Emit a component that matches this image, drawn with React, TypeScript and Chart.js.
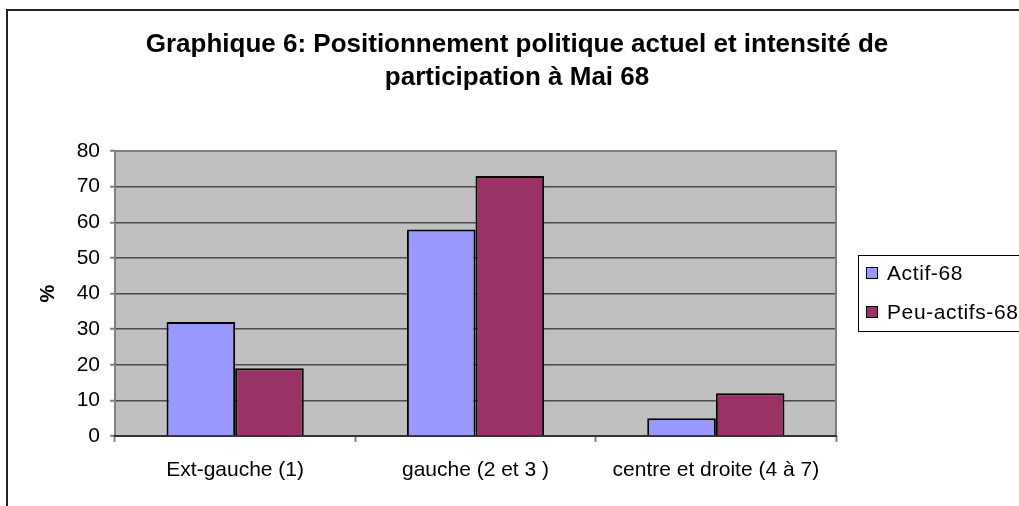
import React, { useEffect, useRef } from "react";
import { Chart, registerables } from "chart.js";

Chart.register(...registerables);

const categories = ["Ext-gauche (1)", "gauche (2 et 3 )", "centre et droite (4 à 7)"];
const actif68 = [32, 58, 5];
const peuActifs68 = [19, 73, 12];
const seriesNames = ["Actif-68", "Peu-actifs-68"];
const titleLines = [
  "Graphique 6: Positionnement politique actuel et intensité de",
  "participation à Mai 68",
];
const yTitle = "%";

const FONT = "'Liberation Sans', Arial, sans-serif";

const decorPlugin = {
  id: "decor",
  beforeDraw(chart: any) {
    const { ctx, chartArea } = chart;
    ctx.save();
    ctx.fillStyle = "#ffffff";
    ctx.fillRect(0, 0, chart.width, chart.height);
    ctx.fillStyle = "#c0c0c0";
    ctx.fillRect(chartArea.left, chartArea.top, chartArea.right - chartArea.left, chartArea.bottom - chartArea.top);
    ctx.strokeStyle = "#222222";
    ctx.lineWidth = 2;
    ctx.beginPath();
    ctx.moveTo(7, chart.height + 2);
    ctx.lineTo(7, 10);
    ctx.lineTo(chart.width + 2, 10);
    ctx.stroke();
    ctx.restore();
  },
  beforeDatasetsDraw(chart: any) {
    const { ctx, chartArea } = chart;
    const { left, right, top, bottom } = chartArea;
    ctx.save();
    ctx.strokeStyle = "#808080";
    ctx.lineWidth = 2;
    ctx.beginPath();
    ctx.moveTo(left, bottom);
    ctx.lineTo(left, top);
    ctx.lineTo(right, top);
    ctx.lineTo(right, bottom);
    ctx.stroke();
    ctx.strokeStyle = "#333333";
    ctx.beginPath();
    ctx.moveTo(left - 1, bottom);
    ctx.lineTo(right + 1, bottom);
    ctx.stroke();
    ctx.restore();
  },
  afterDraw(chart: any) {
    const { ctx } = chart;
    ctx.save();
    ctx.fillStyle = "#000000";
    ctx.font = `bold 26px ${FONT}`;
    ctx.textAlign = "center";
    ctx.textBaseline = "middle";
    ctx.fillText(titleLines[0], 517, 45);
    ctx.fillText(titleLines[1], 517, 78);
    ctx.strokeStyle = "#000000";
    ctx.lineWidth = 1;
    ctx.strokeRect(858.5, 255.5, 170, 76);
    ctx.font = `21px ${FONT}`;
    (ctx as any).letterSpacing = "0.6px";
    ctx.textAlign = "left";
    const ys = [273, 312];
    chart.data.datasets.forEach((ds: any, i: number) => {
      const y = ys[i];
      ctx.fillStyle = ds.backgroundColor;
      ctx.fillRect(866, y - 6, 12, 12);
      ctx.strokeRect(866.5, y - 5.5, 11, 11);
      ctx.fillStyle = "#000000";
      ctx.fillText(ds.label, 887, y + 1);
    });
    ctx.restore();
  },
};

export default function App() {
  const ref = useRef<HTMLCanvasElement>(null);
  useEffect(() => {
    if (!ref.current) return;
    const chart = new Chart(ref.current, {
      type: "bar",
      data: {
        labels: categories,
        datasets: [
          {
            label: seriesNames[0],
            data: actif68,
            backgroundColor: "#9999ff",
            borderColor: "#000000",
            borderWidth: 2,
            barPercentage: 1,
            categoryPercentage: 0.571,
          },
          {
            label: seriesNames[1],
            data: peuActifs68,
            backgroundColor: "#993366",
            borderColor: "#000000",
            borderWidth: 2,
            barPercentage: 1,
            categoryPercentage: 0.571,
          },
        ],
      },
      options: {
        animation: false,
        responsive: true,
        maintainAspectRatio: false,
        layout: { padding: { top: 151, right: 183, bottom: 0, left: 0 } },
        plugins: {
          legend: { display: false },
          title: { display: false },
          tooltip: { enabled: false },
        },
        scales: {
          x: {
            afterFit: (scale: any) => {
              scale.height = 70;
            },
            grid: {
              display: true,
              drawOnChartArea: false,
              drawTicks: true,
              tickLength: 6,
              offset: true,
              tickColor: "#808080",
              tickWidth: 2,
            },
            border: { display: false },
            ticks: {
              color: "#000000",
              font: { family: FONT, size: 21 },
              padding: 16,
              maxRotation: 0,
            },
          },
          y: {
            min: 0,
            max: 80,
            afterFit: (scale: any) => {
              scale.width = 115;
            },
            grid: {
              color: "#4a4a4a",
              lineWidth: 1.5,
              drawTicks: true,
              tickLength: 5,
              tickColor: "#808080",
              tickWidth: 2,
            },
            border: { display: false },
            ticks: {
              stepSize: 10,
              color: "#000000",
              font: { family: FONT, size: 21 },
              padding: 10,
            },
            title: {
              display: true,
              text: yTitle,
              color: "#000000",
              font: { family: FONT, size: 20, weight: "bold" },
              padding: { top: 36, bottom: 0 },
            },
          },
        },
      },
      plugins: [decorPlugin],
    });
    return () => chart.destroy();
  }, []);
  return (
    <div style={{ position: "fixed", left: 0, top: 0, width: 1019, height: 506 }}>
      <canvas ref={ref} />
    </div>
  );
}
